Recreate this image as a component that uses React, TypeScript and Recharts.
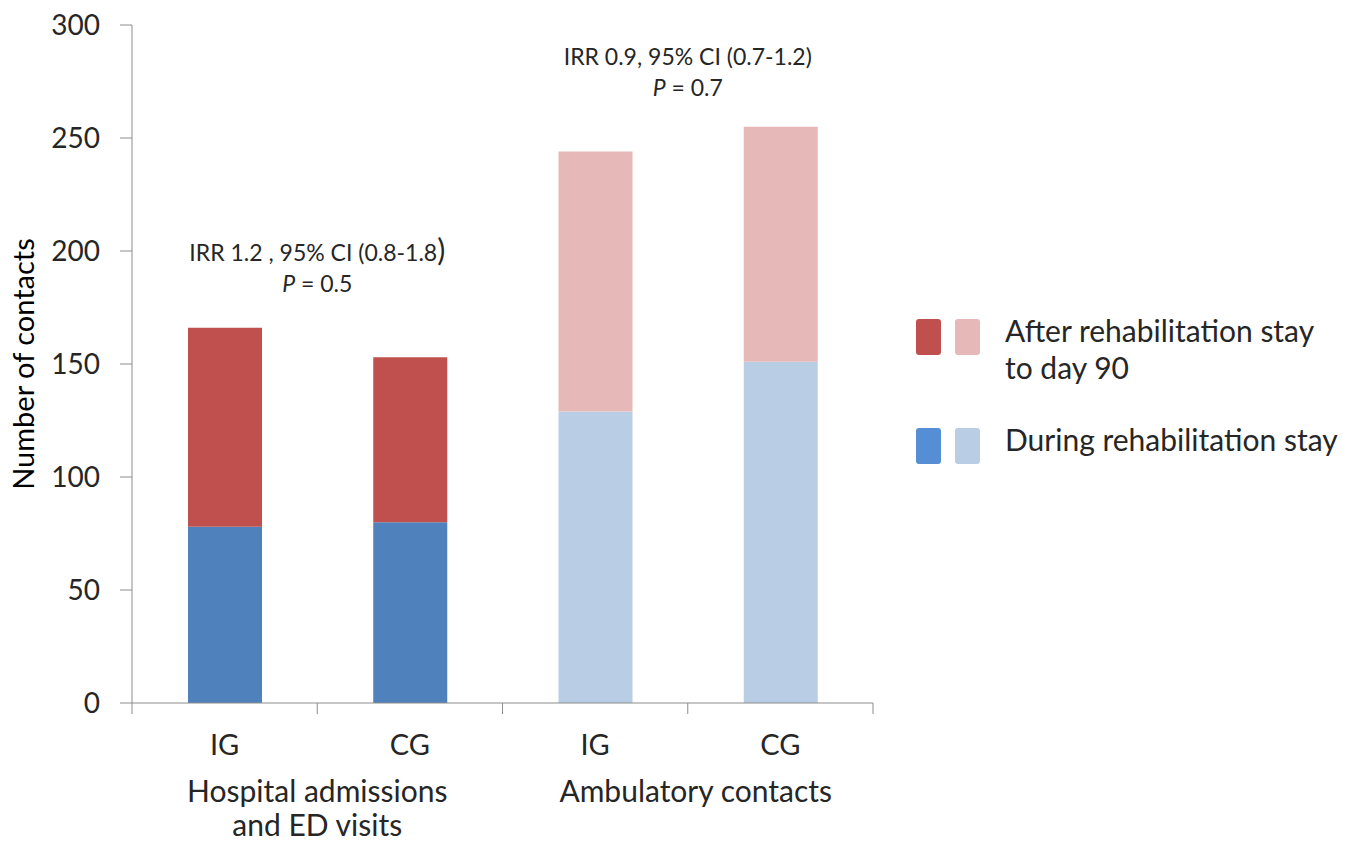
import React from "react";
import { BarChart, Bar, XAxis, YAxis, Cell, ReferenceDot } from "recharts";

const categories = ["IG", "CG", "IG", "CG"];
const duringStay = [78, 80, 129, 151];
const afterStay = [88, 73, 115, 104];
const yTicks = [0, 50, 100, 150, 200, 250, 300];

// group labels sit on a 0..4 bounds axis (boundaries between the bars)
const boundTicks = [0, 1, 2, 3, 4];
const groupPos = [1, 3];
const groupLabels = [["Hospital admissions", "and ED visits"], ["Ambulatory contacts"]];

const annotations = [
  { x: 1, y: 199, head: "IRR 1.2 , 95% CI (0.8-1.8", tail: ")", p: "0.5" },
  { x: 3, y: 286, head: "IRR 0.9, 95% CI (0.7-1.2", tail: ")", p: "0.7" },
];

const duringColors = ["#4F81BD", "#4F81BD", "#B9CDE5", "#B9CDE5"];
const afterColors = ["#C0504D", "#C0504D", "#E6B9B8", "#E6B9B8"];

const data = categories.map((name, i) => ({
  name,
  pos: i + 0.5,
  during: duringStay[i],
  after: afterStay[i],
}));

const textColor = "#262626";
const axisColor = "#8c8c8c";

function CatTick({ x, y, payload }: any) {
  return (
    <text x={x} y={y} dy={32} textAnchor="middle" fontSize={29} fill={textColor}>
      {payload.value}
    </text>
  );
}

function GroupTick({ x, y, payload }: any) {
  const i = groupPos.indexOf(payload.value);
  if (i < 0) return <g />;
  return (
    <text x={x} y={y} textAnchor="middle" fontSize={30} fill={textColor}>
      {groupLabels[i].map((l, k) => (
        <tspan key={k} x={x + (i === 1 ? 8 : 0)} dy={k === 0 ? 88 : 34}>{l}</tspan>
      ))}
    </text>
  );
}

function YLabel({ viewBox }: any) {
  const cx = 24;
  const cy = viewBox.y + viewBox.height / 2;
  return (
    <text x={cx} y={cy} transform={`rotate(-90 ${cx} ${cy})`} textAnchor="middle" dy="0.35em" fontSize={29} fill="#000">
      Number of contacts
    </text>
  );
}

function Annotation(a: (typeof annotations)[number]) {
  return (props: any) => (
    <text x={props.cx} y={props.cy} textAnchor="middle" fontSize={23} fill={textColor} dy="0.35em">
      <tspan>{a.head}</tspan>
      <tspan fontSize={a.x === 1 ? 30 : 23}>{a.tail}</tspan>
      <tspan x={props.cx} dy={31} fontStyle="italic">P</tspan>
      <tspan> = {a.p}</tspan>
    </text>
  );
}

function LegendBox() {
  const sw = (c: string) => (
    <div style={{ width: 25, height: 36, background: c, borderRadius: 3, marginRight: 14 }} />
  );
  const row = (c1: string, c2: string, lines: string[], top: number) => (
    <div style={{ position: "absolute", left: 916, top, display: "flex", alignItems: "flex-start" }}>
      {sw(c1)}
      {sw(c2)}
      <div style={{ marginLeft: 11, fontSize: 30, lineHeight: "37px", color: textColor, marginTop: -7, whiteSpace: "nowrap" }}>
        {lines.map((l) => <div key={l}>{l}</div>)}
      </div>
    </div>
  );
  return (
    <>
      {row("#C0504D", "#E6B9B8", ["After rehabilitation stay", "to day 90"], 319)}
      {row("#558ED5", "#B9CDE5", ["During rehabilitation stay"], 428)}
    </>
  );
}

export default function App() {
  return (
    <div style={{ position: "absolute", left: 0, top: 0, width: 1346, height: 841, background: "#fff", fontFamily: "Lato, sans-serif" }}>
      <BarChart width={1346} height={841} data={data} margin={{ top: 25, right: 473, bottom: 0, left: 0 }}>
        <YAxis
          domain={[0, 300]}
          ticks={yTicks}
          width={132}
          tickSize={12}
          tickMargin={20}
          tick={{ fontSize: 28, fill: textColor }}
          stroke={axisColor}
          label={{ content: <YLabel /> }}
        />
        <XAxis xAxisId="cat" dataKey="name" height={118} axisLine={false} tickLine={false} tickSize={0} tickMargin={0} tick={<CatTick />} interval={0} />
        <XAxis
          xAxisId="bounds"
          dataKey="pos"
          type="number"
          domain={[0, 4]}
          allowDataOverflow
          ticks={boundTicks}
          height={20}
          tickSize={11}
          tickMargin={0}
          stroke={axisColor}
          tick={<GroupTick />}
          interval={0}
        />
        <Bar xAxisId="cat" dataKey="during" stackId="a" barSize={74} isAnimationActive={false}>
          {data.map((_, i) => <Cell key={i} fill={duringColors[i]} />)}
        </Bar>
        <Bar xAxisId="cat" dataKey="after" stackId="a" barSize={74} isAnimationActive={false}>
          {data.map((_, i) => <Cell key={i} fill={afterColors[i]} />)}
        </Bar>
        {annotations.map((a, i) => (
          <ReferenceDot key={i} xAxisId="bounds" x={a.x} y={a.y} r={0} ifOverflow="visible" shape={Annotation(a)} />
        ))}
      </BarChart>
      <LegendBox />
    </div>
  );
}
